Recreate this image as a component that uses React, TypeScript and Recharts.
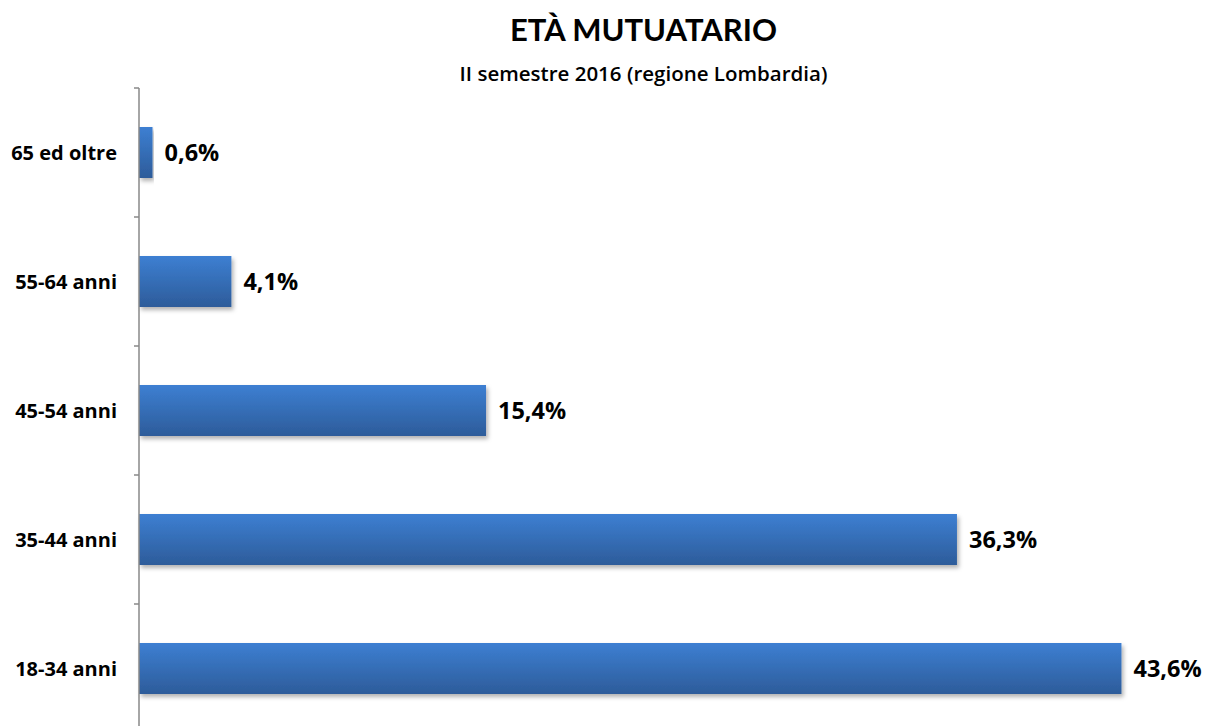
import React from "react";
import { BarChart, Bar, XAxis, YAxis, LabelList } from "recharts";

const categories = ["65 ed oltre", "55-64 anni", "45-54 anni", "35-44 anni", "18-34 anni"];
const values = [0.6, 4.1, 15.4, 36.3, 43.6];

const data = categories.map((c, i) => ({ name: c, value: values[i] }));

const TITLE_FONT = "Lato, 'Open Sans', sans-serif";
const FONT = "'Open Sans', Lato, sans-serif";
const TICK_SIZE = 5;
const TICK_MARGIN = 17;

const fmt = (v: number) => v.toFixed(1).replace(".", ",") + "%";

const CategoryTick = (props: any) => {
  const { x, y, payload } = props;
  const half = payload && payload.offset ? payload.offset : 0;
  const axisX = x + TICK_MARGIN + TICK_SIZE;
  return (
    <g>
      <line x1={axisX - TICK_SIZE} x2={axisX} y1={y - half} y2={y - half} stroke="#888" strokeWidth={1.5} />
      <text x={x} y={y} dy="0.35em" textAnchor="end" fill="#000" fontFamily={FONT} fontWeight={700} fontSize={20}>
        {payload.value}
      </text>
    </g>
  );
};

export default function App() {
  return (
    <div style={{ position: "absolute", left: 0, top: 0, width: 1205, height: 726, overflow: "hidden", background: "#fff" }}>
      <div style={{ position: "absolute", left: 0, width: 1205, top: 10, textAlign: "center", fontFamily: TITLE_FONT, fontWeight: 700, fontSize: 31, color: "#000", paddingLeft: 82, boxSizing: "border-box" }}>
        ETÀ MUTUATARIO
      </div>
      <div style={{ position: "absolute", left: 0, width: 1205, top: 59, textAlign: "center", fontFamily: FONT, fontWeight: 600, fontSize: 20.5, color: "#000", paddingLeft: 82, boxSizing: "border-box" }}>
        II semestre 2016 (regione Lombardia)
      </div>
      <BarChart
        width={1205}
        height={740}
        data={data}
        layout="vertical"
        margin={{ top: 88, right: 52, bottom: 7, left: 0 }}
        style={{ position: "absolute", left: 0, top: 0 }}
      >
        <defs>
          <linearGradient id="barGrad" x1="0" y1="0" x2="0" y2="1">
            <stop offset="0%" stopColor="#3d7fd2" />
            <stop offset="100%" stopColor="#2d5c9a" />
          </linearGradient>
          <filter id="barShadow" x="-5%" y="-20%" width="115%" height="150%">
            <feDropShadow dx="2" dy="3" stdDeviation="2" floodColor="#000" floodOpacity="0.3" />
          </filter>
        </defs>
        <XAxis type="number" domain={[0, 45]} hide />
        <YAxis
          type="category"
          dataKey="name"
          width={139}
          axisLine={{ stroke: "#888", strokeWidth: 1.5 }}
          tickLine={false}
          tickSize={TICK_SIZE}
          tickMargin={TICK_MARGIN}
          tick={<CategoryTick />}
        />
        <Bar
          dataKey="value"
          barSize={51}
          fill="url(#barGrad)"
          filter="url(#barShadow)"
          isAnimationActive={false}
        >
          <LabelList
            dataKey="value"
            position="right"
            offset={12}
            formatter={(v: any) => fmt(Number(v))}
            style={{ fill: "#000", fontFamily: FONT, fontWeight: 700, fontSize: 23.5 }}
          />
        </Bar>
      </BarChart>
    </div>
  );
}
